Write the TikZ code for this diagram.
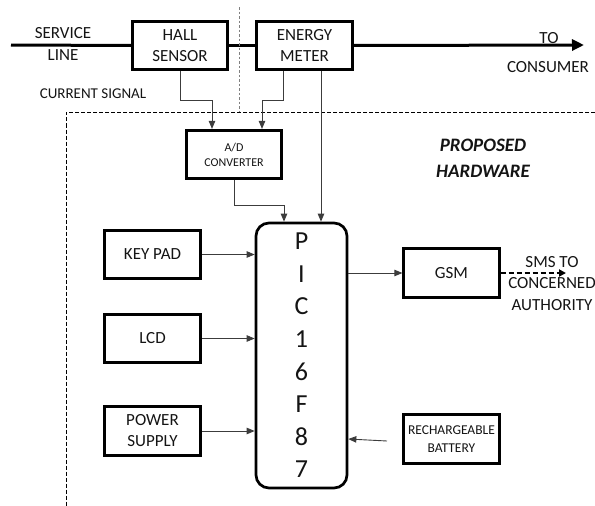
\documentclass[tikz,border=0pt]{standalone}
\usepackage{fontspec}
\setmainfont{Carlito}
\usepackage{xcolor}
\usetikzlibrary{arrows.meta, positioning, calc}
\definecolor{textgris}{RGB}{20,20,20}
\definecolor{lineagris}{RGB}{60,60,60}

\begin{document}
\begin{tikzpicture}[x=1pt, y=1pt,
      blk/.style={draw=black, line width=2.7pt, minimum width=95.5pt,
                  minimum height=48.5pt, inner sep=1pt, align=center,
                  text=textgris, font=\fontsize{17}{21}\selectfont},
      lbl/.style={text=textgris, align=center, inner sep=0pt,
                  font=\fontsize{17}{21.5}\selectfont},
      sig/.style={draw=lineagris, line width=0.9pt,
                  -{Triangle[length=8pt,width=6.5pt]}},
      power/.style={line width=3pt},
      >=Stealth]
    \useasboundingbox (0,0) rectangle (595,-506);
    % line side
    \node[blk] (hall) at (180,-45.5) {HALL\\SENSOR};
    \node[blk] (meter) at (304.5,-45.5) {ENERGY\\METER};
    \coordinate (svc) at (11,-45);
    \coordinate (cons) at (584,-45);
    \draw[power] (svc) -- (hall.west);
    \draw[power] (hall.east) -- (meter.west);
    \draw[power, -{Triangle[length=12pt,width=11pt]}] (meter.east) -- (cons);
    \node[lbl] (svclbl) at (63,-44) {SERVICE\\LINE};
    \node[lbl] (tolbl) at (549,-38) {TO};
    \node[lbl] (conslbl) at (548,-67) {CONSUMER};
    \node[lbl, font=\fontsize{15}{18}\selectfont] (curlbl) at (93,-94)
          {CURRENT SIGNAL};
    % separators
    \coordinate (septop) at (239,-7);
    \coordinate (sepbot) at (239,-112);
    \draw[gray, line width=0.9pt, dash pattern=on 2.5pt off 2pt] (septop) -- (sepbot);
    \coordinate (framer) at (595,-112.5);
    \coordinate (frameb) at (66,-506);
    \draw[black, line width=0.8pt, dash pattern=on 4pt off 2pt] (framer) -| (frameb);
    \node[lbl, font=\fontsize{19}{26}\selectfont\bfseries\itshape] (hwlbl)
          at (483,-158) {PROPOSED\\HARDWARE};
    % proposed hardware
    \node[blk, font=\fontsize{12}{15}\selectfont] (adc) at (234,-154.5)
          {A/D\\CONVERTER};
    \node[blk, rounded corners=13pt, minimum width=91pt, minimum height=265pt,
          font=\fontsize{26}{32.6}\selectfont] (pic) at (301.5,-355.5)
          {P\\I\\C\\1\\6\\F\\8\\7};
    \node[blk] (gsm) at (451.5,-273) {GSM};
    \node[blk, font=\fontsize{13.5}{18}\selectfont] (batt) at (451.5,-439)
          {RECHARGEABLE\\BATTERY};
    \foreach \nm/\yy/\txt in {keypad/254.5/{KEY PAD}, lcd/338.5/LCD,
                             supply/431/{POWER\\SUPPLY}} {
      \node[blk] (\nm) at (152.5,-\yy) {\txt};
      \draw[sig] (\nm.east) -- (\nm.east -| pic.west);
    }
    \draw[sig] (hall.south) -- ++(0,-29) -| ([xshift=-22pt]adc.north);
    \draw[sig] ([xshift=-21.5pt]meter.south) -- ++(0,-29) -| ([xshift=28pt]adc.north);
    \draw[sig] ([xshift=16.5pt]meter.south) -- ([xshift=16.5pt]meter.south |- pic.north);
    \draw[sig] (adc.south) -- ++(0,-25) -| ([xshift=-17.5pt]pic.north);
    \draw[sig] (gsm.west -| pic.east) -- (gsm.west);
    \coordinate (sms) at (566,-273);
    \draw[black, line width=2.2pt, dash pattern=on 5pt off 3pt,
          -{Triangle[length=7pt,width=7pt]}] (gsm.east) -- (sms);
    \node[lbl] (smslbl) at (552,-283.5) {SMS TO\\CONCERNED\\AUTHORITY};
    \coordinate (battin) at (387,-441);
    \draw[sig] (battin) -- ([yshift=-83.5pt]pic.east);
  \end{tikzpicture}
\end{document}
